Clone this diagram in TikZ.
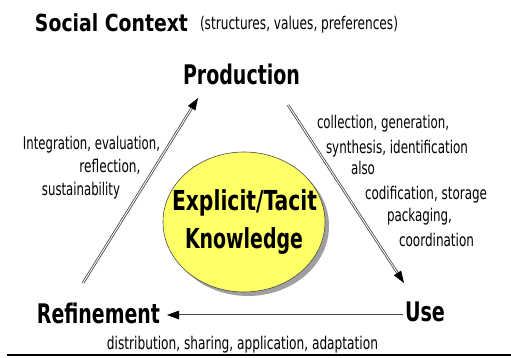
\documentclass[tikz,border=0pt]{standalone}
\usepackage{fontspec}
\usepackage{graphicx}
\setmainfont{DejaVu Sans Condensed}
\usetikzlibrary{arrows.meta,calc,shapes.geometric,shadows}
\definecolor{ellfill}{RGB}{255,255,102}
\newcommand{\fitw}[2]{\resizebox{#1pt}{\height}{#2}}
\begin{document}
\begin{tikzpicture}[x=1pt,y=-1pt,
 lbl/.style={anchor=base,inner sep=0pt,font=\fontsize{17.5}{20}\selectfont},
 head/.style={anchor=base,inner sep=0pt,font=\fontsize{27}{30}\selectfont\bfseries},
 kn/.style={anchor=base,inner sep=0pt,font=\fontsize{27.5}{30}\selectfont\bfseries},
 dbl/.style={draw=gray!55!black,double=white,double distance=0.9pt,line width=0.8pt},
 tipst/.style={-{Triangle[length=12pt,width=8.5pt]},line width=0.8pt,black}]
\useasboundingbox (0,0) rectangle (511,358);
% titles
\node[head,font=\fontsize{23.5}{26}\selectfont\bfseries] (sc) at (111.5,32) {\fitw{153}{Social Context}};
\node[lbl] (scsub) at (299,30) {\fitw{198}{(structures, values, preferences)}};
\node[head] (prod) at (241.5,84.5) {\fitw{117}{Production}};
\node[head] (ref) at (98.5,323.3) {\fitw{123}{Refinement}};
\node[head] (use) at (425,321.7) {\fitw{40}{Use}};
% ellipse
\node[ellipse,minimum width=162,minimum height=140,fill=ellfill,draw=gray!60!black,line width=0.6pt,
  drop shadow={shadow xshift=4pt,shadow yshift=-4pt,fill=gray!75,opacity=1}] (know) at (244,222) {};
\node[kn] (k1) at (244.5,210) {\fitw{145}{Explicit/Tacit}};
\node[kn] (k2) at (244,248.3) {\fitw{118}{Knowledge}};
% left labels
\node[lbl] (l1) at (91.5,149.3) {\fitw{137}{Integration, evaluation,}};
\node[lbl] (l2) at (110,172.7) {\fitw{61}{reflection,}};
\node[lbl] (l3) at (81,195.5) {\fitw{78}{sustainability}};
% right labels
\node[lbl] (r1) at (383,128.3) {\fitw{132}{collection, generation,}};
\node[lbl] (r2) at (397,153.3) {\fitw{142}{synthesis, identification}};
\node[lbl] (r3) at (363,175) {\fitw{24}{also}};
\node[lbl] (r4) at (426,200) {\fitw{122}{codification, storage}};
\node[lbl] (r5) at (419.5,221.7) {\fitw{65}{packaging,}};
\node[lbl] (r6) at (436.5,246.7) {\fitw{75}{coordination}};
% bottom label
\node[lbl] (b1) at (242.5,349) {\fitw{271}{distribution, sharing, application, adaptation}};
% arrow end points
\coordinate (refout) at (83,283);
\coordinate (prodin) at (198,98);
\coordinate (prodout) at (288,105);
\coordinate (usein) at (404,283);
\coordinate (useout) at (403,315);
\coordinate (refin) at (167,315);
% arrows
\draw[dbl] (refout) -- ($(prodin)!8pt!(refout)$);
\draw[tipst] ($(prodin)!10pt!(refout)$) -- (prodin);
\draw[dbl] (prodout) -- ($(usein)!8pt!(prodout)$);
\draw[tipst] ($(usein)!10pt!(prodout)$) -- (usein);
\draw[dbl] (useout) -- ($(refin)!8pt!(useout)$);
\draw[tipst] ($(refin)!10pt!(useout)$) -- (refin);
% bottom rule
\coordinate (ruleL) at (7,355);
\coordinate (ruleR) at (511,355);
\draw[line width=1.6pt] (ruleL) -- (ruleR);
\end{tikzpicture}
\end{document}
